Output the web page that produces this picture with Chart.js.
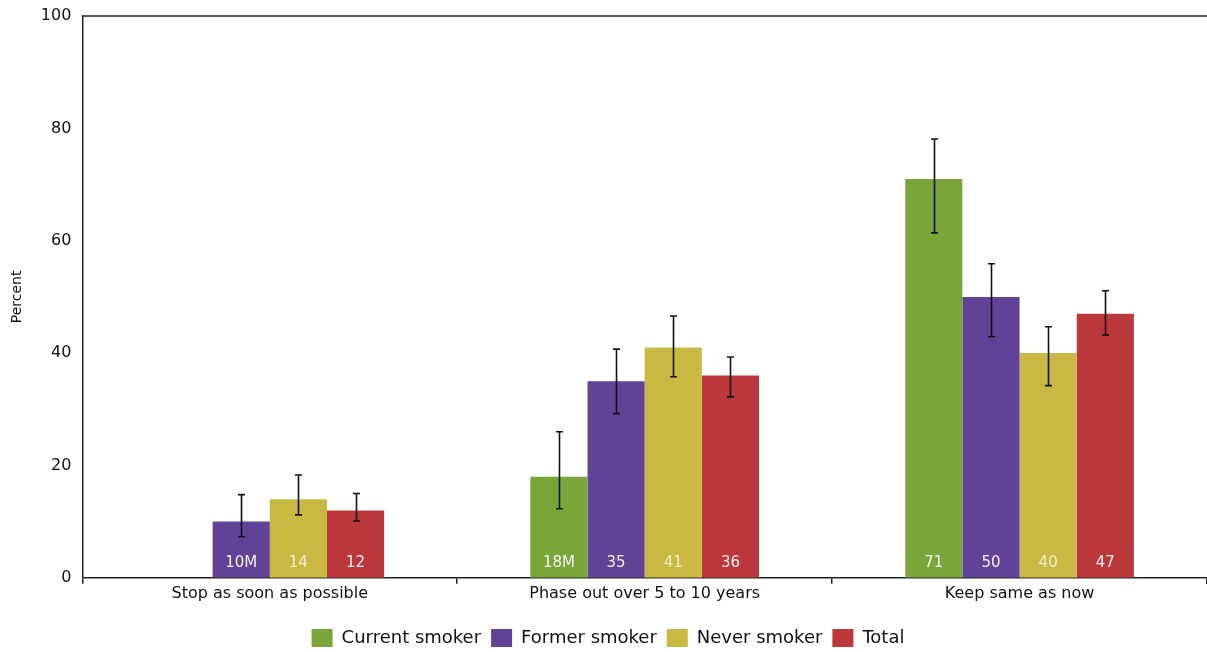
<!DOCTYPE html>
<html>
<head>
<meta charset="utf-8">
<script src="https://cdn.jsdelivr.net/npm/chart.js@4/dist/chart.umd.min.js"></script>
<style>
  html, body { margin: 0; padding: 0; background: #ffffff; overflow: hidden; }
  #wrap { width: 1207px; height: 652px; position: relative; }
</style>
</head>
<body>
<div id="wrap"><canvas id="chart"></canvas></div>
<script>
// Preferred pace of reducing nicotine, by smoking status (percent)
const categories = ['Stop as soon as possible', 'Phase out over 5 to 10 years', 'Keep same as now'];
const seriesNames = ['Current smoker', 'Former smoker', 'Never smoker', 'Total'];

const currentSmoker = [null, 18, 71];
const formerSmoker  = [10, 35, 50];
const neverSmoker   = [14, 41, 40];
const totalValues   = [12, 36, 47];

// 95% confidence limits
const currentLow  = [null, 12.3, 61.4];
const currentHigh = [null, 26.0, 78.1];
const formerLow   = [7.3, 29.2, 42.9];
const formerHigh  = [14.8, 40.7, 55.9];
const neverLow    = [11.2, 35.8, 34.2];
const neverHigh   = [18.3, 46.6, 44.7];
const totalLow    = [10.1, 32.2, 43.2];
const totalHigh   = [15.0, 39.3, 51.1];

// Estimates flagged with "M" (interpret with caution)
const currentFlags = ['', 'M', ''];
const formerFlags  = ['M', '', ''];
const neverFlags   = ['', '', ''];
const totalFlags   = ['', '', ''];

const yTicks = [0, 20, 40, 60, 80, 100];

const colors = ['#79a638', '#614297', '#c9b943', '#bb373b'];

const seriesValues = [currentSmoker, formerSmoker, neverSmoker, totalValues];
const seriesLow = [currentLow, formerLow, neverLow, totalLow];
const seriesHigh = [currentHigh, formerHigh, neverHigh, totalHigh];
const seriesFlags = [currentFlags, formerFlags, neverFlags, totalFlags];

const FONT = '"DejaVu Sans", "Open Sans", sans-serif';

// Error bars with small caps
const errorBars = {
  id: 'errorBars',
  afterDatasetsDraw(chart) {
    const ctx = chart.ctx;
    const y = chart.scales.y;
    ctx.save();
    ctx.strokeStyle = '#111111';
    ctx.lineWidth = 1.6;
    chart.data.datasets.forEach((ds, di) => {
      const meta = chart.getDatasetMeta(di);
      meta.data.forEach((bar, i) => {
        const lo = seriesLow[di][i], hi = seriesHigh[di][i];
        if (lo == null || hi == null) return;
        const x = Math.round(bar.x) + 0.5;
        const yl = y.getPixelForValue(lo), yh = y.getPixelForValue(hi);
        ctx.beginPath();
        ctx.moveTo(x, yl); ctx.lineTo(x, yh);
        ctx.moveTo(x - 3.5, yl); ctx.lineTo(x + 3.5, yl);
        ctx.moveTo(x - 3.5, yh); ctx.lineTo(x + 3.5, yh);
        ctx.stroke();
      });
    });
    ctx.restore();
  }
};

// Value labels written inside the foot of each bar
const valueLabels = {
  id: 'valueLabels',
  afterDatasetsDraw(chart) {
    const ctx = chart.ctx;
    ctx.save();
    ctx.font = '15px ' + FONT;
    ctx.textAlign = 'center';
    ctx.textBaseline = 'middle';
    chart.data.datasets.forEach((ds, di) => {
      const meta = chart.getDatasetMeta(di);
      meta.data.forEach((bar, i) => {
        const v = seriesValues[di][i];
        if (v == null) return;
        ctx.fillStyle = di === 2 ? 'rgba(255,255,255,0.75)' : 'rgba(255,255,255,0.92)';
        ctx.fillText(String(v) + seriesFlags[di][i], bar.x, bar.base - 15);
      });
    });
    ctx.restore();
  }
};

// Top frame line of the plot area
const frameTop = {
  id: 'frameTop',
  afterDraw(chart) {
    const a = chart.chartArea, ctx = chart.ctx;
    ctx.save();
    ctx.strokeStyle = '#222222';
    ctx.lineWidth = 1.5;
    ctx.beginPath();
    ctx.moveTo(a.left, a.top);
    ctx.lineTo(a.right + 5, a.top);
    ctx.stroke();
    ctx.restore();
  }
};

new Chart(document.getElementById('chart'), {
  type: 'bar',
  data: {
    labels: categories,
    datasets: seriesNames.map((name, i) => ({
      label: name,
      data: seriesValues[i],
      backgroundColor: colors[i],
      borderWidth: 0,
      categoryPercentage: 0.61,
      barPercentage: 1.0
    }))
  },
  options: {
    responsive: true,
    maintainAspectRatio: false,
    animation: false,
    layout: { padding: { top: 0, right: 0, left: 9, bottom: -5 } },
    plugins: {
      legend: {
        position: 'bottom',
        labels: {
          boxWidth: 21,
          boxHeight: 18,
          padding: 10,
          color: '#111111',
          font: { family: FONT, size: 18 }
        }
      },
      tooltip: { enabled: false }
    },
    scales: {
      x: {
        afterFit(axis) { axis.height += 16; },
        grid: {
          display: true,
          drawOnChartArea: false,
          drawTicks: true,
          tickLength: 6,
          color: '#222222',
          lineWidth: 1.5
        },
        border: { display: true, color: '#222222', width: 1.5 },
        ticks: {
          color: '#111111',
          padding: 0,
          font: { family: FONT, size: 16 }
        }
      },
      y: {
        min: 0,
        max: 100,
        afterBuildTicks(axis) { axis.ticks = yTicks.map(v => ({ value: v })); },
        afterFit(axis) { axis.paddingTop = 16; },
        grid: { display: false, drawTicks: false },
        border: { display: true, color: '#222222', width: 1.5 },
        title: {
          display: true,
          text: 'Percent',
          color: '#111111',
          padding: { top: 0, bottom: 4 },
          font: { family: FONT, size: 14 }
        },
        ticks: {
          color: '#111111',
          padding: 11,
          font: { family: FONT, size: 16 }
        }
      }
    }
  },
  plugins: [errorBars, valueLabels, frameTop]
});
</script>
</body>
</html>
